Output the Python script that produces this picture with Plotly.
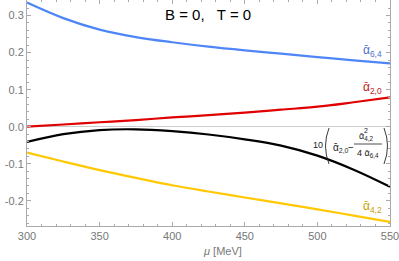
import plotly.graph_objects as go

mu = [300, 325, 350, 375, 400, 425, 450, 475, 500, 525, 550]
a64 = [0.335, 0.293, 0.262, 0.242, 0.228, 0.216, 0.206, 0.197, 0.188, 0.179, 0.171]
a20 = [0.000, 0.006, 0.012, 0.018, 0.025, 0.031, 0.038, 0.046, 0.054, 0.066, 0.079]
comb = [-0.041, -0.020, -0.009, -0.007, -0.012, -0.021, -0.034, -0.051, -0.078, -0.116, -0.162]
a42 = [-0.070, -0.094, -0.117, -0.138, -0.158, -0.175, -0.191, -0.207, -0.223, -0.240, -0.257]

xticks = [300, 350, 400, 450, 500, 550]
yticks = [-0.2, -0.1, 0.0, 0.1, 0.2, 0.3]
ytick_text = ["-0.2", "-0.1", "0.0", "0.1", "0.2", "0.3"]

W, H = 399, 261
L, R, T, B = 27, 9, 0, 35
PW, PH = W - L - R, H - T - B


def px(x):
    return (x - L) / PW


def py(y):
    return (H - B - y) / PH


fig = go.Figure()
for ys, col in [(a64, "#4f86f7"), (a20, "#e00000"), (comb, "#000000"), (a42, "#ffc800")]:
    fig.add_trace(go.Scatter(x=mu, y=ys, mode="lines",
                             line=dict(color=col, width=2.2, shape="spline"),
                             showlegend=False, hoverinfo="skip"))

ann = []


def text(x, y, s, size=10, color="#222", xanchor="center"):
    ann.append(dict(x=px(x), y=py(y), xref="paper", yref="paper", text=s,
                    showarrow=False, xanchor=xanchor, yanchor="middle",
                    font=dict(size=size, color=color, family="Liberation Sans")))


text(208, 15, "B = 0,   T = 0", size=15, color="#000")
text(372, 51, "ᾱ<sub>6,4</sub>", size=12, color="#4a72d0")
text(372, 88, "ᾱ<sub>2,0</sub>", size=12, color="#c01818")
text(372, 207, "ᾱ<sub>4,2</sub>", size=12, color="#c9a000")
text(222, 251, "<i>μ</i> [MeV]", size=11, color="#777")

# combination label
text(318, 145, "10", size=9)
text(331, 148, "ᾱ<sub>2,0</sub>", size=10, xanchor="left")
text(351, 147, "−", size=10)
text(357, 136, "ᾱ<sub>4,2</sub>", size=9, xanchor="left")
text(366, 130, "2", size=7)
text(368, 153, "4 ᾱ<sub>6,4</sub>", size=9)

shapes = [
    dict(type="line", xref="paper", yref="paper", x0=px(354), x1=px(382),
         y0=py(144), y1=py(144), line=dict(color="#222", width=0.8)),
    dict(type="path", xref="paper", yref="paper",
         path=f"M {px(329)},{py(128)} Q {px(322)},{py(146)} {px(329)},{py(164)}",
         line=dict(color="#222", width=0.9)),
    dict(type="path", xref="paper", yref="paper",
         path=f"M {px(384)},{py(128)} Q {px(391)},{py(146)} {px(384)},{py(164)}",
         line=dict(color="#222", width=0.9)),
]

axis_common = dict(showline=True, linecolor="#aaaaaa", linewidth=1, mirror="allticks",
                   ticks="inside", ticklen=4, tickcolor="#aaaaaa", showgrid=False,
                   automargin=False, ticklabeloverflow="allow",
                   tickfont=dict(size=11, color="#777", family="Liberation Sans"))

fig.update_layout(
    width=W, height=H, margin=dict(l=L, r=R, t=T, b=B),
    plot_bgcolor="white", paper_bgcolor="white",
    annotations=ann, shapes=shapes,
    xaxis=dict(range=[300, 550], tickvals=xticks,
               minor=dict(dtick=10, ticks="inside", ticklen=2, tickcolor="#aaaaaa"),
               zeroline=False, **axis_common),
    yaxis=dict(range=[-0.268, 0.342], tickvals=yticks, ticktext=ytick_text,
               minor=dict(dtick=0.02, ticks="inside", ticklen=2, tickcolor="#aaaaaa"),
               zeroline=True, zerolinecolor="#cccccc", zerolinewidth=1,
               **axis_common),
)

fig.write_html("out.html", config={"displayModeBar": False},
               post_script="document.body.style.margin='0';document.body.style.overflow='hidden';")
